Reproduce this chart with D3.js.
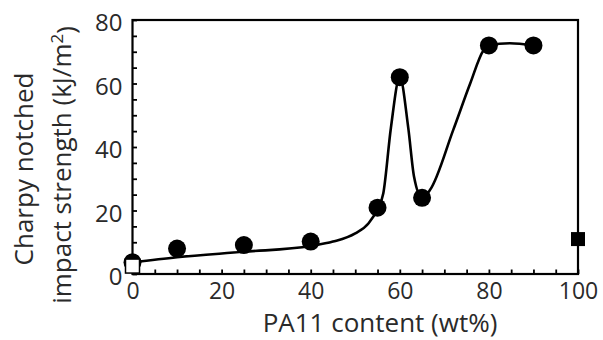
<!DOCTYPE html>
<html><head><meta charset="utf-8">
<script src="https://cdn.jsdelivr.net/npm/d3@7"></script>
<style>body{margin:0;background:#fff}svg{display:block}</style>
</head><body>
<svg id="c" width="603" height="340"></svg>
<script>
// Data
const blendX = [0, 10, 25, 40, 55, 60, 65, 80, 90];
const blendY = [3.7, 8, 9.1, 10.2, 20.9, 62, 24, 72, 72];
const neatPPX = [0], neatPPY = [2.5];      // open square
const neatPAX = [100], neatPAY = [11];    // filled square
const curveX = [0, 10, 25, 40, 45, 50, 53, 55, 56.3, 58, 60, 61.9, 63.2, 65, 66.8, 72, 75.8, 78.8, 80, 84.7, 90];
const curveY = [3.7, 5.3, 7.0, 8.8, 10.2, 12.8, 16, 20.5, 25.4, 46, 62, 46, 30.6, 24, 26.5, 45.4, 60, 70.5, 72, 72.7, 72];
const xTicks = [0, 20, 40, 60, 80, 100];
const yTicks = [0, 20, 40, 60, 80];
const xLabel = "PA11 content (wt%)";
const yLabel1 = "Charpy notched";
const yLabel2 = "impact strength (kJ/m";

const svg = d3.select("#c");
const font = "'Open Sans', sans-serif";
const tc = "#2a2a2a";
const x = d3.scaleLinear().domain([0, 100]).range([132.5, 578]);
const y = d3.scaleLinear().domain([0, 80]).range([274, 20]);

// frame
svg.append("rect").attr("x", x(0)).attr("y", y(80)).attr("width", x(100) - x(0)).attr("height", y(0) - y(80))
  .attr("fill", "none").attr("stroke", "#000").attr("stroke-width", 2.2);

// minor/major ticks inward
const g = svg.append("g");
const yAx = g.append("g").attr("transform", `translate(${x(0)},0)`)
  .call(d3.axisRight(y).tickValues(d3.range(0, 81, 5)).tickSize(4.5).tickFormat(""));
const xAx = g.append("g").attr("transform", `translate(0,${y(0)})`)
  .call(d3.axisTop(x).tickValues(d3.range(0, 101, 5)).tickSize(4.5).tickFormat(""));
[yAx, xAx].forEach(a => { a.select(".domain").remove(); a.selectAll("line").attr("stroke", "#000").attr("stroke-width", 1.8); });

// tick labels via axes
const yL = svg.append("g").attr("transform", `translate(${x(0)},0)`)
  .call(d3.axisLeft(y).tickValues(yTicks).tickSize(0).tickPadding(10));
yL.select(".domain").remove();
yL.selectAll("text").attr("font-family", font).attr("font-size", 24).attr("fill", tc).attr("dy", "0.45em");
const xL = svg.append("g").attr("transform", `translate(0,${y(0)})`)
  .call(d3.axisBottom(x).tickValues(xTicks).tickSize(0).tickPadding(9));
xL.select(".domain").remove();
xL.selectAll("text").attr("font-family", font).attr("font-size", 23).attr("fill", tc);

// curve
const pts = curveX.map((v, i) => [v, curveY[i]]);
svg.append("path").attr("d", d3.line().x(d => x(d[0])).y(d => y(d[1])).curve(d3.curveMonotoneX)(pts))
  .attr("fill", "none").attr("stroke", "#000").attr("stroke-width", 2.6);

// circles
svg.selectAll("circle.b").data(blendX.map((v, i) => [v, blendY[i]])).enter().append("circle")
  .attr("cx", d => x(d[0])).attr("cy", d => y(d[1])).attr("r", 9).attr("fill", "#000");

// squares
const s = 14;
svg.selectAll("rect.pp").data(neatPPX.map((v, i) => [v, neatPPY[i]])).enter().append("rect")
  .attr("x", d => x(d[0]) - s / 2).attr("y", d => y(d[1]) - s / 2).attr("width", s).attr("height", s)
  .attr("fill", "#fff").attr("stroke", "#000").attr("stroke-width", 1.5);
svg.selectAll("rect.pa").data(neatPAX.map((v, i) => [v, neatPAY[i]])).enter().append("rect")
  .attr("x", d => x(d[0]) - s / 2).attr("y", d => y(d[1]) - s / 2).attr("width", s).attr("height", s)
  .attr("fill", "#000");

// axis titles
svg.append("text").attr("x", 380).attr("y", 332).attr("text-anchor", "middle")
  .attr("font-family", font).attr("font-size", 26).attr("fill", tc).text(xLabel);
svg.append("text").attr("transform", "translate(33,169) rotate(-90)").attr("text-anchor", "middle")
  .attr("font-family", font).attr("font-size", 26).attr("fill", tc).text(yLabel1);
const t2 = svg.append("text").attr("transform", "translate(71,165) rotate(-90)").attr("text-anchor", "middle")
  .attr("font-family", font).attr("font-size", 26).attr("fill", tc);
t2.append("tspan").text(yLabel2);
t2.append("tspan").attr("dy", "-0.45em").attr("font-size", 17).text("2");
t2.append("tspan").attr("dy", "0.45em").text(")");
</script>
</body></html>
